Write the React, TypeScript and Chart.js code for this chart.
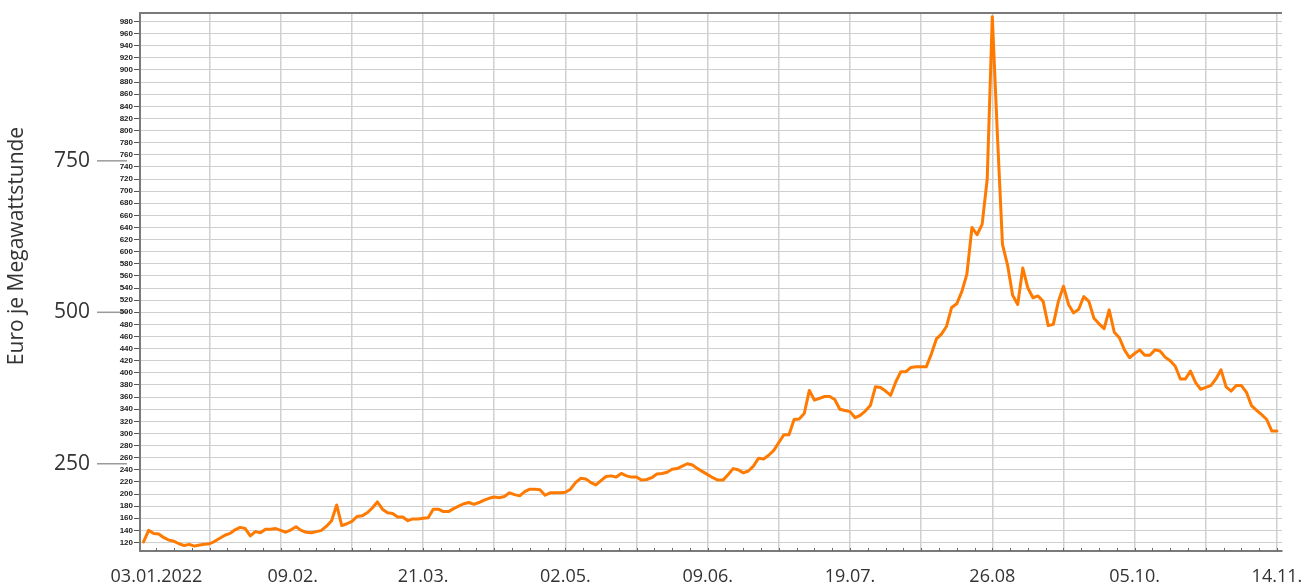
import React, { useEffect, useRef } from 'react';
import Chart from 'chart.js/auto';

// Trading-day index positions of the date labels on the x axis
const xTickLabels = ['03.01.2022', '09.02.', '21.03.', '02.05.', '09.06.', '19.07.', '26.08', '05.10.', '14.11.'];
const xTickIndex = [0, 28, 56, 84, 112, 140, 168, 196, 224];
const firstDayIndex = 1;

// Price in Euro per MWh, one value per trading day
const prices = [
  121, 140, 135, 134, 128, 124, 122, 118, 115, 117,
  114, 116, 117, 118, 122, 127, 132, 135, 141, 145,
  143, 131, 138, 136, 142, 142, 143, 140, 137, 141,
  146, 140, 137, 136, 138, 140, 147, 156, 182, 148,
  151, 155, 163, 164, 169, 177, 187, 175, 169, 168,
  162, 162, 156, 159, 159, 160, 161, 175, 175, 171,
  171, 176, 180, 184, 186, 183, 186, 190, 193, 195,
  194, 196, 202, 199, 197, 204, 208, 208, 207, 198,
  202, 202, 202, 203, 208, 219, 226, 225, 219, 215,
  222, 229, 230, 228, 234, 230, 228, 228, 223, 224,
  227, 233, 234, 236, 241, 242, 246, 250, 248, 242,
  237, 232, 227, 223, 223, 232, 242, 240, 235, 238,
  246, 259, 258, 264, 272, 285, 298, 298, 323, 324,
  333, 371, 355, 358, 361, 361, 356, 340, 338, 336,
  326, 330, 337, 346, 377, 376, 370, 363, 385, 402,
  402, 409, 410, 410, 410, 431, 456, 464, 477, 508,
  514, 534, 563, 640, 628, 645, 720, 988, 793, 612,
  578, 528, 513, 573, 540, 524, 527, 518, 478, 480,
  518, 543, 513, 499, 505, 526, 518, 490, 481, 473,
  504, 467, 458, 438, 425, 432, 438, 429, 429, 438,
  436, 426, 420, 411, 390, 390, 403, 384, 373, 376,
  379, 390, 405, 377, 370, 379, 379, 368, 346, 338,
  331, 323, 304, 304,
];

const bigYTicks = [250, 500, 750];
const yTitle = 'Euro je Megawattstunde';

const decorPlugin = {
  id: 'decor',
  beforeDraw(chart: any) {
    const { ctx, chartArea: a, scales } = chart;
    const yb = scales.yBig;
    ctx.save();
    // long tick marks of the big y scale (under the small labels)
    ctx.strokeStyle = '#9a9a9a';
    ctx.lineWidth = 1.5;
    bigYTicks.forEach((v) => {
      const py = yb.getPixelForValue(v);
      ctx.beginPath();
      ctx.moveTo(a.left - 43, py);
      ctx.lineTo(a.left - 13, py);
      ctx.stroke();
    });
    ctx.restore();
  },
  afterDraw(chart: any) {
    const { ctx, chartArea: a, scales } = chart;
    const xs = scales.x;
    ctx.save();
    // minor ticks along the bottom axis (inward)
    ctx.strokeStyle = '#666';
    ctx.lineWidth = 1;
    for (let v = 3.5; v <= 224.01; v += 3.5) {
      const px = Math.round(xs.getPixelForValue(v)) + 0.5;
      ctx.beginPath();
      ctx.moveTo(px, a.bottom);
      ctx.lineTo(px, a.bottom - 3);
      ctx.stroke();
    }
    // top border
    ctx.strokeStyle = '#7a7a7a';
    ctx.lineWidth = 2;
    ctx.beginPath();
    ctx.moveTo(a.left - 1, a.top);
    ctx.lineTo(a.right, a.top);
    ctx.stroke();
    // x labels
    ctx.fillStyle = '#333';
    ctx.font = "18px 'Open Sans'";
    ctx.textAlign = 'center';
    ctx.textBaseline = 'alphabetic';
    xTickLabels.forEach((t, k) => {
      const shift = k === 0 ? 18 : k === 1 ? 12 : 0;
      ctx.fillText(t, xs.getPixelForValue(xTickIndex[k]) + shift, a.bottom + 31);
    });
    // y title
    ctx.translate(17, 246);
    ctx.rotate(-Math.PI / 2);
    ctx.font = "21px 'Open Sans'";
    ctx.textAlign = 'center';
    ctx.textBaseline = 'middle';
    ctx.fillText(yTitle, 0, 0);
    ctx.restore();
  },
};

const noVPad = (s: any) => { s.paddingTop = 0; s.paddingBottom = 0; };

export default function App() {
  const ref = useRef<HTMLCanvasElement>(null);
  useEffect(() => {
    if (!ref.current) return;
    const chart = new Chart(ref.current, {
      type: 'line',
      data: {
        datasets: [
          {
            data: prices.map((v, k) => ({ x: firstDayIndex + k, y: v })),
            borderColor: '#FF7A00',
            borderWidth: 3,
            pointRadius: 0,
            borderJoinStyle: 'round',
            borderCapStyle: 'round',
            tension: 0,
            xAxisID: 'x',
            yAxisID: 'y',
          },
        ],
      },
      options: {
        animation: false,
        responsive: false,
        layout: { padding: { top: 13, right: 29, left: 0, bottom: 0 } },
        plugins: { legend: { display: false }, tooltip: { enabled: false } },
        scales: {
          x: {
            type: 'linear',
            position: 'bottom',
            min: 0.3,
            max: 225,
            ticks: { display: false, stepSize: 14, includeBounds: false },
            grid: { color: '#d0d0d0', lineWidth: 1.5, drawTicks: false },
            border: { color: '#7a7a7a', width: 2 },
            afterFit: (s: any) => { s.height = 35; s.paddingLeft = 0; s.paddingRight = 0; },
          },
          y: {
            type: 'linear',
            position: 'left',
            weight: 0,
            min: 106,
            max: 994,
            ticks: {
              stepSize: 20,
              includeBounds: false,
              autoSkip: false,
              padding: 1,
              color: '#222',
              font: { family: "'Liberation Sans'", size: 8, weight: 'bold' },
            },
            grid: { color: '#cfcfcf', lineWidth: 1, tickLength: 6, tickColor: '#555' },
            border: { color: '#7a7a7a', width: 2 },
            afterFit: (s: any) => { s.width = 24; noVPad(s); },
          },
          yBig: {
            type: 'linear',
            position: 'left',
            weight: 10,
            min: 106,
            max: 994,
            afterBuildTicks: (s: any) => { s.ticks = bigYTicks.map((v) => ({ value: v })); },
            ticks: { padding: 26, color: '#333', font: { family: "'Open Sans'", size: 21 } },
            grid: { drawOnChartArea: false, drawTicks: false },
            border: { display: false },
            afterFit: (s: any) => { s.width = 116; noVPad(s); },
          },
        },
      } as any,
      plugins: [decorPlugin],
    });
    return () => chart.destroy();
  }, []);
  return (
    <div style={{ position: 'fixed', left: 0, top: 0, width: 1311, height: 586, background: '#fff' }}>
      <canvas ref={ref} width={1311} height={586} style={{ display: 'block' }} />
    </div>
  );
}
